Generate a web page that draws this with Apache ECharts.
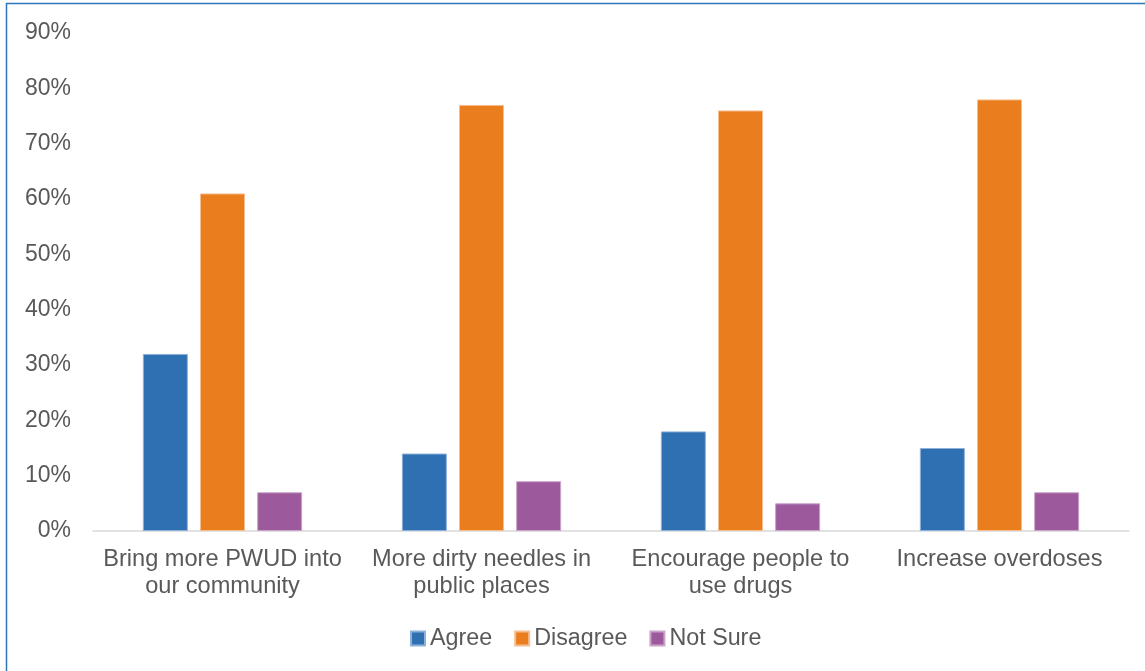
<!DOCTYPE html>
<html>
<head>
<meta charset="utf-8">
<script src="https://cdn.jsdelivr.net/npm/echarts@6/dist/echarts.min.js"></script>
<style>
  html, body { margin: 0; padding: 0; background: #ffffff; }
  #chart { width: 1145px; height: 671px; }
</style>
</head>
<body>
<div id="chart"></div>
<script>
// Survey responses by statement (percent of respondents)
const categories = [
  'Bring more PWUD into\nour community',
  'More dirty needles in\npublic places',
  'Encourage people to\nuse drugs',
  'Increase overdoses'
];
const agree = [32, 14, 18, 15];
const disagree = [61, 77, 76, 78];
const notSure = [7, 9, 5, 7];
const yTicks = [0, 10, 20, 30, 40, 50, 60, 70, 80, 90];

const FONT = '"Liberation Sans", Arial, sans-serif';
const TEXT = '#595959';

const chart = echarts.init(document.getElementById('chart'), null, { renderer: 'canvas' });

function barSeries(name, data, color, border) {
  return {
    name: name,
    type: 'bar',
    data: data,
    barWidth: 45,
    barGap: '27%',
    itemStyle: { color: color, borderColor: border, borderWidth: 1 },
    emphasis: { disabled: true }
  };
}

chart.setOption({
  animation: false,
  backgroundColor: '#ffffff',
  graphic: [{
    type: 'polyline',
    shape: { points: [[6.5, 680], [6.5, 3.5], [1160, 3.5]] },
    style: { stroke: '#2E75B6', lineWidth: 1.5, fill: null },
    silent: true
  }],
  grid: { left: 93, right: 16, top: 33, bottom: 140, containLabel: false },
  legend: {
    left: 405,
    top: 622,
    itemWidth: 14,
    itemHeight: 14,
    itemGap: 22,
    icon: 'rect',
    textStyle: { fontFamily: FONT, fontSize: 23.3, color: TEXT, padding: [0, 0, 0, 0] },
    data: ['Agree', 'Disagree', 'Not Sure']
  },
  xAxis: {
    type: 'category',
    data: categories,
    axisLine: { lineStyle: { color: '#D9D9D9', width: 1.5 } },
    axisTick: { show: false },
    axisLabel: {
      interval: 0,
      margin: 15,
      fontFamily: FONT,
      fontSize: 23.6,
      lineHeight: 27,
      color: TEXT
    }
  },
  yAxis: {
    type: 'value',
    min: yTicks[0],
    max: yTicks[yTicks.length - 1],
    interval: yTicks[1] - yTicks[0],
    splitLine: { show: false },
    axisLine: { show: false },
    axisTick: { show: false },
    axisLabel: {
      margin: 22,
      fontFamily: FONT,
      fontSize: 23,
      color: TEXT,
      formatter: v => v + '%'
    }
  },
  series: [
    barSeries('Agree', agree, '#2E70B2', '#8DB1D8'),
    barSeries('Disagree', disagree, '#EA7E1F', '#F5BE8F'),
    barSeries('Not Sure', notSure, '#9C5A9D', '#C9A3CA')
  ]
});
</script>
</body>
</html>
